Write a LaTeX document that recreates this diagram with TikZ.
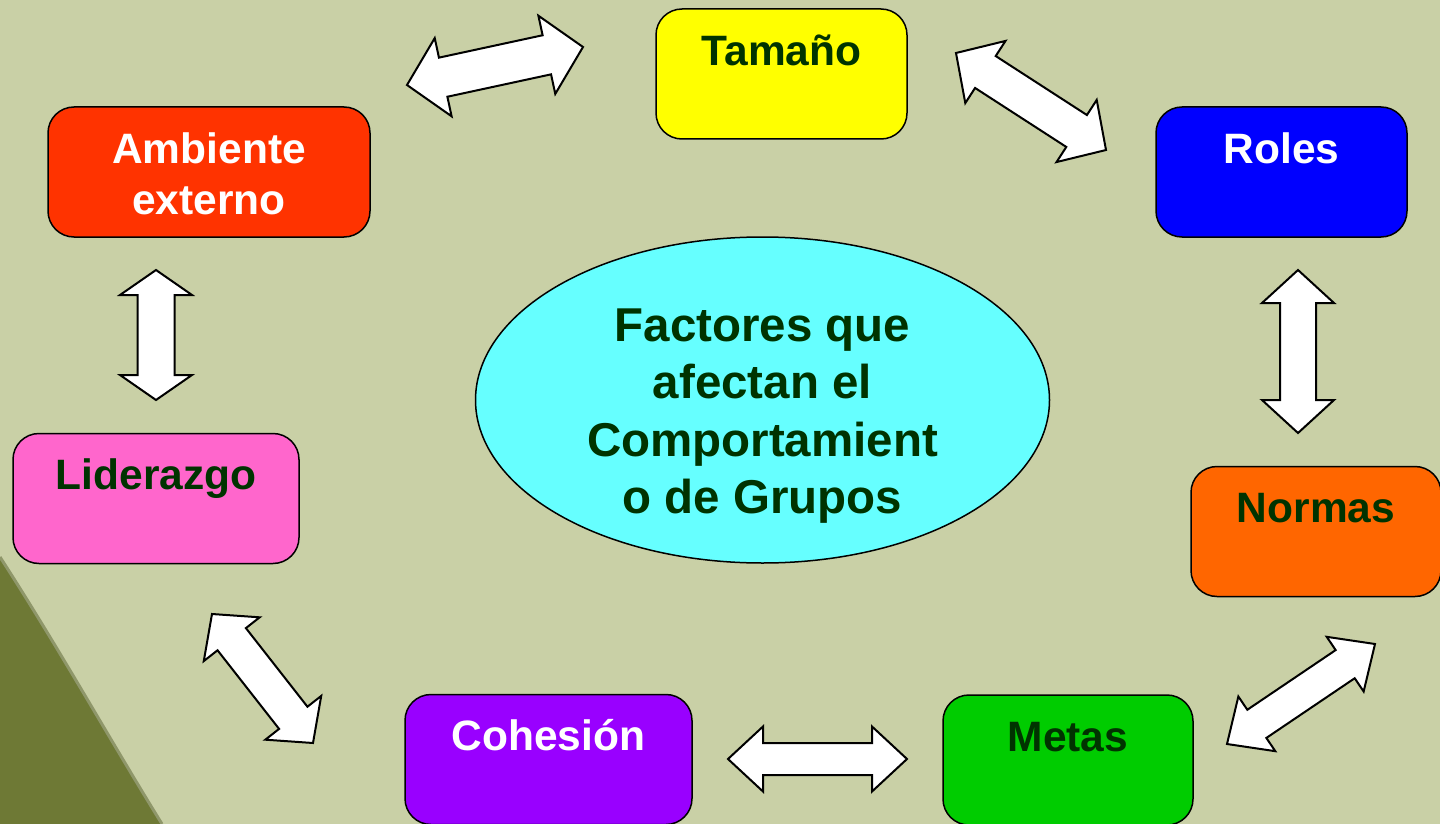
\documentclass[tikz,border=0pt]{standalone}
\usepackage{fontspec}
\setmainfont{Liberation Sans}
\usetikzlibrary{calc,shapes.geometric}
\definecolor{bg}{HTML}{C9D0A6}
\definecolor{olive}{HTML}{6E7935}
\definecolor{edgeshade}{HTML}{8F976A}
\definecolor{txtgreen}{HTML}{003300}
\definecolor{cYellow}{HTML}{FFFF00}
\definecolor{cBlue}{HTML}{0000FF}
\definecolor{cRed}{HTML}{FF3300}
\definecolor{cPink}{HTML}{FF66CC}
\definecolor{cOrange}{HTML}{FF6600}
\definecolor{cPurple}{HTML}{9900FF}
\definecolor{cGreen}{HTML}{00CC00}
\definecolor{cCyan}{HTML}{66FFFF}
\tikzset{
  boxnode/.style={draw=black, line width=1.5pt, rounded corners=26pt,
    minimum width=#1, minimum height=130pt, inner sep=0pt},
  boxtext/.style={anchor=base, inner sep=0pt, align=center,
    font=\fontsize{42.5}{51}\selectfont\bfseries},
  ellnode/.style={ellipse, draw=black, line width=1.5pt, fill=cCyan,
    minimum width=574pt, minimum height=326pt, inner sep=0pt},
  elltext/.style={inner sep=0pt, align=center, text=txtgreen,
    font=\fontsize{47.5}{57.3}\selectfont\bfseries},
  barrow/.style={draw=black, fill=white, line width=2pt, line join=miter},
}
\newcommand{\blockarrow}[5]{%
  \coordinate (ha) at ($(#1)!#5!(#2)$);
  \coordinate (hb) at ($(#2)!#5!(#1)$);
  \draw[barrow] (#1) -- ($(ha)!#4!90:(#2)$) -- ($(ha)!#3!90:(#2)$)
    -- ($(hb)!#3!-90:(#1)$) -- ($(hb)!#4!-90:(#1)$) -- (#2)
    -- ($(hb)!#4!90:(#1)$) -- ($(hb)!#3!90:(#1)$)
    -- ($(ha)!#3!-90:(#2)$) -- ($(ha)!#4!-90:(#2)$) -- cycle;
}
\begin{document}
\begin{tikzpicture}[x=1pt,y=-1pt]
\useasboundingbox (0,0) rectangle (1440,824);
\clip (0,0) rectangle (1440,824);
\fill[bg] (0,0) rectangle (1440,824);
% dark olive region bottom-left
\fill[olive] (0,557) .. controls (60,650) and (110,740) .. (162,824) -- (0,824) -- cycle;
\draw[edgeshade, line width=3pt] (0,557) .. controls (60,650) and (110,740) .. (162,824);

% boxes
\node[boxnode=251pt, fill=cYellow] (tam) at (781.5,74) {};
\node[boxtext, text=txtgreen] (tamT) at ([yshift=-57pt]tam.north) {Tamaño};

\node[boxnode=251pt, fill=cBlue] (rol) at (1281.5,172) {};
\node[boxtext, text=white] (rolT) at ([yshift=-57pt]rol.north) {Roles};

\node[boxnode=322pt, fill=cRed] (amb) at (209,172) {};
\node[boxtext, text=white] (ambT) at ([yshift=-108pt]amb.north) {Ambiente\\externo};

\node[boxnode=286pt, fill=cPink] (lid) at (156,498.5) {};
\node[boxtext, text=txtgreen] (lidT) at ([yshift=-57pt]lid.north) {Liderazgo};

\node[boxnode=250pt, fill=cOrange] (nor) at (1316,531.5) {};
\node[boxtext, text=txtgreen] (norT) at ([yshift=-57pt]nor.north) {Normas};

\node[boxnode=287pt, fill=cPurple] (coh) at (548.5,759.5) {};
\node[boxtext, text=white] (cohT) at ([yshift=-57pt]coh.north) {Cohesión};

\node[boxnode=250pt, fill=cGreen] (met) at (1068,760) {};
\node[boxtext, text=txtgreen] (metT) at ([yshift=-57pt]met.north) {Metas};

% central ellipse
\node[ellnode] (ell) at (762.5,400) {};
\node[elltext] (ellT) at (762.5,416) {Factores que\\afectan el\\Comportamient\\o de Grupos};

% arrow tips
\coordinate (a1s) at (407,85);   \coordinate (a1e) at (583,47);
\coordinate (a2s) at (956,53);   \coordinate (a2e) at (1106,150);
\coordinate (a3s) at (156,270);  \coordinate (a3e) at (156,400);
\coordinate (a4s) at (1298,270); \coordinate (a4e) at (1298,433);
\coordinate (a5s) at (212,614);  \coordinate (a5e) at (313,743);
\coordinate (a6s) at (728,759);  \coordinate (a6e) at (907,759);
\coordinate (a7s) at (1227,744); \coordinate (a7e) at (1375,644);

\blockarrow{a1s}{a1e}{20pt}{40pt}{37pt}
\blockarrow{a2s}{a2e}{19pt}{37pt}{35pt}
\blockarrow{a3s}{a3e}{18.5pt}{36pt}{25pt}
\blockarrow{a4s}{a4e}{18pt}{36pt}{33pt}
\blockarrow{a5s}{a5e}{18pt}{35.5pt}{32pt}
\blockarrow{a6s}{a6e}{16pt}{32.5pt}{35pt}
\blockarrow{a7s}{a7e}{17pt}{33pt}{36pt}
\end{tikzpicture}
\end{document}
